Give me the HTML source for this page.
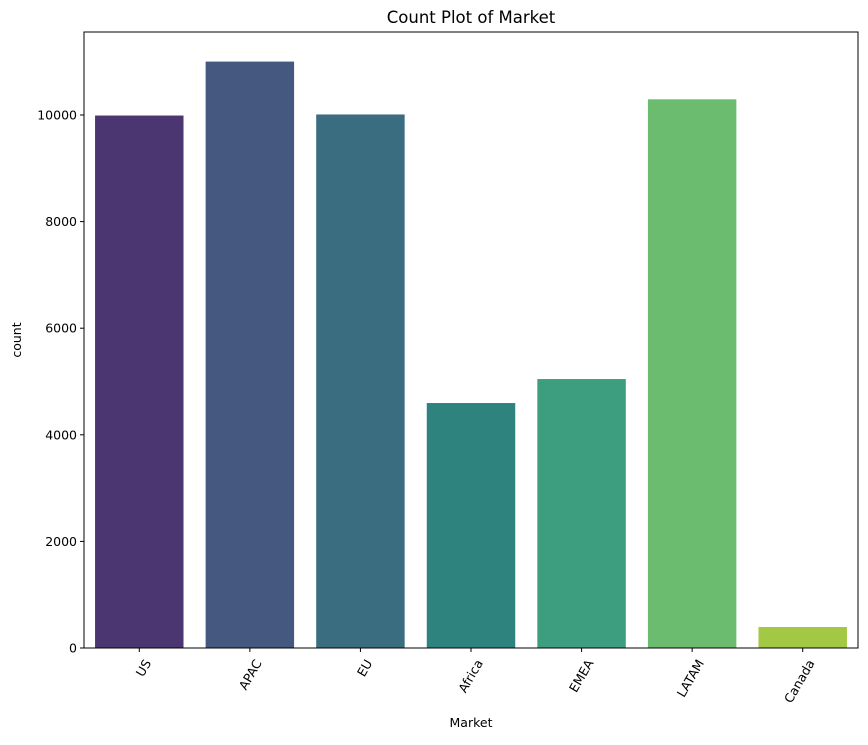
<!DOCTYPE html>
<html><head><meta charset="utf-8"><style>
body{margin:0;background:#fff;}
text{font-family:"DejaVu Sans","Liberation Sans",sans-serif;fill:#000;}
</style></head><body>
<svg id="chart" width="868" height="740" xmlns="http://www.w3.org/2000/svg">
<rect width="868" height="740" fill="#fff"/>
<text x="471" y="23" font-size="16.5" text-anchor="middle">Count Plot of Market</text>
<g id="bars"></g>
<g id="axes"></g>
<text x="471" y="727" font-size="12.5" text-anchor="middle">Market</text>
<text transform="translate(21,340) rotate(-90)" font-size="12.5" text-anchor="middle">count</text>
</svg>
<script>
const categories = ["US","APAC","EU","Africa","EMEA","LATAM","Canada"];
const counts = [9990, 11002, 10010, 4596, 5046, 10294, 394];
const colors = ["#4b3671","#45587f","#3a6d80","#2f837e","#3c9e7e","#6bbc6e","#a3c843"];
const yTicks = [0,2000,4000,6000,8000,10000];
const L=84,R=858,T=32,B=648;
const NS="http://www.w3.org/2000/svg";
const y=v=>B-v*(B-115)/10000;
const band=(R-L)/categories.length;
const xc=i=>L+band*(i+0.5);
const bars=document.getElementById('bars'),axes=document.getElementById('axes');
function mk(t,a,p){const e=document.createElementNS(NS,t);for(const k in a)e.setAttribute(k,a[k]);p.appendChild(e);return e;}
categories.forEach((c,i)=>{
  const w=band*0.8;
  const r=mk('rect',{x:xc(i)-w/2,y:y(counts[i]),width:w,height:B-y(counts[i]),fill:colors[i]},bars);
  
  
  mk('line',{x1:xc(i),x2:xc(i),y1:B,y2:B+4,stroke:'#000'},axes);
  const t=mk('text',{transform:`translate(${xc(i)+4},${B+10}) rotate(-60)`,'font-size':12.5,'text-anchor':'end','dominant-baseline':'hanging'},axes);
  t.textContent=c;
  
  
});
yTicks.forEach(v=>{
  mk('line',{x1:L-4,x2:L,y1:y(v),y2:y(v),stroke:'#000'},axes);
  const t=mk('text',{x:L-7,y:y(v)+4.5,'font-size':12.5,'text-anchor':'end'},axes);
  t.textContent=v;
  
  
});
mk('rect',{x:L,y:T,width:R-L,height:B-T,fill:'none',stroke:'#000','stroke-width':1},axes);
</script>
</body></html>
